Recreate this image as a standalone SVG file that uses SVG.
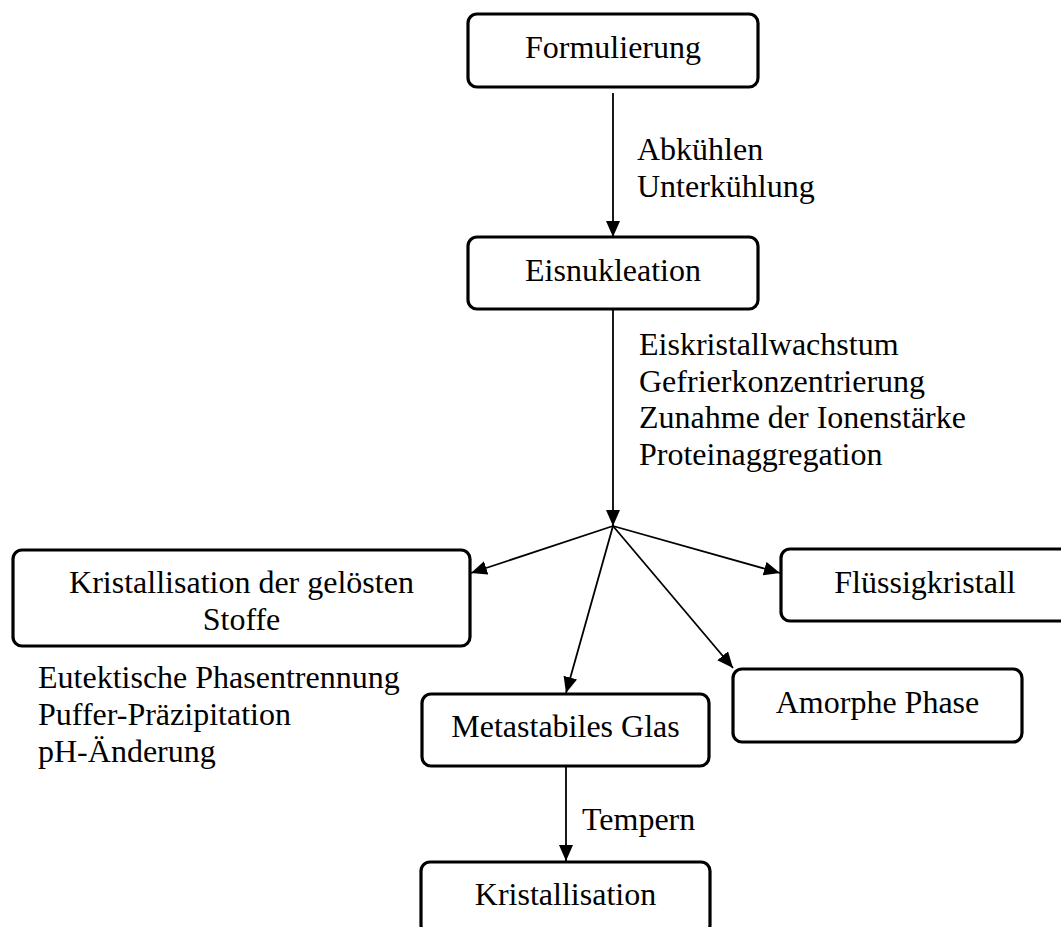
<svg xmlns="http://www.w3.org/2000/svg" width="1061" height="927" viewBox="0 0 1061 927">
<defs>
<marker id="ah" markerUnits="userSpaceOnUse" markerWidth="17" markerHeight="14" refX="16" refY="7" orient="auto">
<path d="M0,0 L16,7 L0,14 z" fill="#000"/>
</marker>
<style>
.box{fill:#fff;stroke:#000;stroke-width:3.2}
.t{font-family:"Liberation Serif","Times New Roman",serif;font-size:32px;fill:#000}
.c{text-anchor:middle}
.ln{stroke:#000;stroke-width:1.8;fill:none;marker-end:url(#ah)}
</style>
</defs>
<rect width="1061" height="927" fill="#fff"/>
<g id="connectors">
<line class="ln" x1="613" y1="93" x2="613" y2="237"/>
<line class="ln" x1="613" y1="310" x2="613" y2="526"/>
<line class="ln" x1="613" y1="526" x2="471" y2="573"/>
<line class="ln" x1="613" y1="526" x2="566" y2="693"/>
<line class="ln" x1="613" y1="526" x2="733" y2="668"/>
<line class="ln" x1="613" y1="526" x2="780" y2="573"/>
<line class="ln" x1="566" y1="767" x2="566" y2="861"/>
</g>
<g id="labels">
<text class="t" x="637" y="160">Abkühlen</text>
<text class="t" x="637" y="197">Unterkühlung</text>
<text class="t" x="639" y="355">Eiskristallwachstum</text>
<text class="t" x="639" y="392">Gefrierkonzentrierung</text>
<text class="t" x="639" y="428">Zunahme der Ionenstärke</text>
<text class="t" x="639" y="465">Proteinaggregation</text>
<text class="t" x="38" y="688">Eutektische Phasentrennung</text>
<text class="t" x="38" y="725">Puffer-Präzipitation</text>
<text class="t" x="38" y="762">pH-Änderung</text>
<text class="t" x="582" y="830">Tempern</text>
</g>
<g id="node-formulierung">
<rect class="box" x="468" y="14" width="290" height="73" rx="9"/>
<text class="t c" x="613" y="58">Formulierung</text>
</g>
<g id="node-eisnukleation">
<rect class="box" x="468" y="237" width="290" height="72" rx="9"/>
<text class="t c" x="613" y="281">Eisnukleation</text>
</g>
<g id="node-kristallisation-geloest">
<rect class="box" x="13" y="550" width="457" height="96" rx="9"/>
<text class="t c" x="241.5" y="593">Kristallisation der gelösten</text>
<text class="t c" x="241.5" y="630">Stoffe</text>
</g>
<g id="node-fluessigkristall">
<rect class="box" x="781" y="549" width="290" height="72" rx="9"/>
<text class="t c" x="925" y="593">Flüssigkristall</text>
</g>
<g id="node-metastabiles-glas">
<rect class="box" x="422" y="694" width="287" height="72" rx="9"/>
<text class="t c" x="565.5" y="737">Metastabiles Glas</text>
</g>
<g id="node-amorphe-phase">
<rect class="box" x="733" y="669" width="289" height="73" rx="9"/>
<text class="t c" x="877.5" y="713">Amorphe Phase</text>
</g>
<g id="node-kristallisation">
<rect class="box" x="421" y="862" width="289" height="72" rx="9"/>
<text class="t c" x="565.5" y="905">Kristallisation</text>
</g>
</svg>
